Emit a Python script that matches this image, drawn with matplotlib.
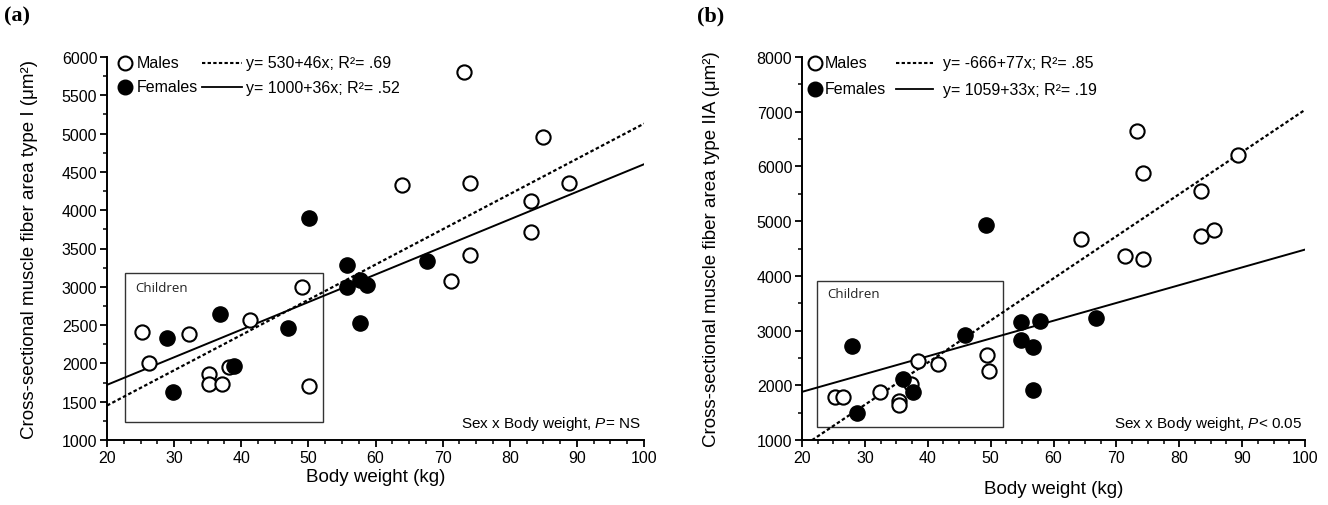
import matplotlib
matplotlib.use("Agg")
import matplotlib.pyplot as plt
from matplotlib.ticker import MultipleLocator, FixedLocator

plt.rcParams['font.family'] = ['Liberation Sans', 'DejaVu Sans']
plt.rcParams['mathtext.fontset'] = 'custom'
plt.rcParams['mathtext.rm'] = 'Liberation Sans'
plt.rcParams['mathtext.it'] = 'Liberation Sans:italic'

W, H, DPI = 1328, 506, 100

# ---------------- data: panel (a) type I ----------------
a_male_w = [25.2, 26.3, 32.2, 35.2, 35.2, 37.2, 38.2, 41.3, 49.0, 50.1,
            64.0, 71.2, 73.2, 74.1, 74.1, 83.1, 83.1, 85.0, 88.8]
a_male_csa = [2410, 2000, 2380, 1860, 1730, 1730, 1950, 2570, 3000, 1710,
              4330, 3080, 5810, 4355, 3420, 4120, 3710, 4960, 4355]
a_female_w = [29.0, 29.8, 36.9, 38.9, 46.9, 50.1, 55.7, 55.7, 57.7, 58.7, 57.7, 67.7]
a_female_csa = [2330, 1630, 2640, 1970, 2460, 3900, 3290, 3000, 3090, 3030, 2530, 3340]
a_fit_male = (530, 46)       # intercept, slope
a_fit_female = (1000, 36)
a_eq_male = "y= 530+46x; R²= .69"
a_eq_female = "y= 1000+36x; R²= .52"
a_box = (22.7, 52.2, 1240, 3180)
a_ylim = (1000, 6000)
a_yticks = [1000, 1500, 2000, 2500, 3000, 3500, 4000, 4500, 5000, 5500, 6000]
a_ylabel = "Cross-sectional muscle fiber area type I (μm²)"
a_stat = "Sex x Body weight, $P$= NS"

# ---------------- data: panel (b) type IIA ----------------
b_male_w = [25.2, 26.5, 32.4, 35.5, 35.5, 37.3, 38.4, 41.6, 49.4, 49.8,
            64.3, 71.3, 73.3, 74.2, 74.2, 83.4, 83.4, 85.5, 89.4]
b_male_csa = [1780, 1780, 1883, 1720, 1640, 2024, 2450, 2389, 2554, 2260,
              4674, 4358, 6643, 5876, 4309, 5558, 4735, 4839, 6216]
b_female_w = [27.9, 28.8, 36.0, 37.7, 46.0, 49.3, 54.9, 54.9, 57.9, 56.8, 56.8, 66.7]
b_female_csa = [2713, 1488, 2115, 1883, 2920, 4930, 3150, 2830, 3170, 2700, 1910, 3225]
b_fit_male = (-666, 77)
b_fit_female = (1230, 32.5)  # as drawn in the picture
b_eq_male = "y= -666+77x; R²= .85"
b_eq_female = "y= 1059+33x; R²= .19"
b_box = (22.4, 51.9, 1243, 3910)
b_ylim = (1000, 8000)
b_yticks = [1000, 2000, 3000, 4000, 5000, 6000, 7000, 8000]
b_ylabel = "Cross-sectional muscle fiber area type IIA (μm²)"
b_stat = "Sex x Body weight, $P$< 0.05"

x_range = (20, 100)
x_ticks = [20, 30, 40, 50, 60, 70, 80, 90, 100]
xlabel = "Body weight (kg)"


def fx(px):
    return px / W


def fy(py):
    return 1 - py / H


fig = plt.figure(figsize=(W / DPI, H / DPI), dpi=DPI)


def panel(left, right, top, bottom, mw, mc, fw, fc, fit_m, fit_f, eq_m, eq_f,
          box, ylim, yticks, yminor, ylabel, stat, tag, tagx, ylabx, xlaby, leg):
    ax = fig.add_axes([fx(left), fy(bottom), fx(right) - fx(left), fy(top) - fy(bottom)])
    ax.set_xlim(*x_range)
    ax.set_ylim(*ylim)
    for s in ['top', 'right']:
        ax.spines[s].set_visible(False)
    for s in ['left', 'bottom']:
        ax.spines[s].set_linewidth(1.4)
    ax.xaxis.set_major_locator(FixedLocator(x_ticks))
    ax.xaxis.set_minor_locator(MultipleLocator(2.5))
    ax.yaxis.set_major_locator(FixedLocator(yticks))
    ax.yaxis.set_minor_locator(MultipleLocator(yminor))
    ax.tick_params(which='major', direction='out', length=5, width=1.3, labelsize=11.5, pad=2)
    ax.tick_params(which='minor', direction='out', length=3, width=1.1)

    # children box
    ax.add_patch(plt.Rectangle((box[0], box[2]), box[1] - box[0], box[3] - box[2],
                               fill=False, edgecolor='#333333', linewidth=1.0, zorder=1))
    # fit lines
    xs = list(x_range)
    ax.plot(xs, [fit_m[0] + fit_m[1] * x for x in xs], color='black', lw=1.6,
            linestyle=(0, (1.6, 1.1)), zorder=2)
    ax.plot(xs, [fit_f[0] + fit_f[1] * x for x in xs], color='black', lw=1.4, zorder=2)
    # points
    ax.scatter(mw, mc, s=105, facecolor='white', edgecolor='black', linewidth=1.5, zorder=3)
    ax.scatter(fw, fc, s=120, facecolor='black', edgecolor='black', linewidth=1.0, zorder=4)

    # Children label
    fig.text(fx(leg['child'][0]), fy(leg['child'][1]), "Children", fontsize=9.5,
             family='Open Sans', color='#222222', ha='left', va='top')
    # stat text
    fig.text(fx(right - 3), fy(424), stat, fontsize=11, ha='right', va='center')

    # legend (manual)
    mx, tx, l0, l1, ex, r1, r2 = leg['pos']
    fig.lines.append(plt.Line2D([fx(mx)], [fy(r1)], marker='o', ms=10, mfc='white',
                                mec='black', mew=1.5, transform=fig.transFigure))
    fig.lines.append(plt.Line2D([fx(mx)], [fy(r2)], marker='o', ms=10.5, mfc='black',
                                mec='black', transform=fig.transFigure))
    fig.lines.append(plt.Line2D([fx(l0), fx(l1)], [fy(r1), fy(r1)], color='black', lw=1.5,
                                linestyle=(0, (1.6, 1.1)), transform=fig.transFigure))
    fig.lines.append(plt.Line2D([fx(l0), fx(l1)], [fy(r2), fy(r2)], color='black', lw=1.3,
                                transform=fig.transFigure))
    fig.text(fx(tx), fy(r1), "Males", fontsize=11.5, ha='left', va='center')
    fig.text(fx(tx), fy(r2), "Females", fontsize=11.5, ha='left', va='center')
    fig.text(fx(ex), fy(r1), eq_m, fontsize=11.5, ha='left', va='center')
    fig.text(fx(ex), fy(r2), eq_f, fontsize=11.5, ha='left', va='center')

    # axis labels
    fig.text(fx(ylabx), fy((top + bottom) / 2), ylabel, rotation=90, fontsize=13.5,
             ha='center', va='center')
    fig.text(fx((left + right) / 2), fy(xlaby), xlabel, fontsize=13.5, ha='center', va='center')
    # panel tag
    fig.text(fx(tagx), fy(6), tag, fontsize=16, fontweight='bold', family='Liberation Serif',
             ha='left', va='top')
    return ax


panel(107, 644, 58, 441, a_male_w, a_male_csa, a_female_w, a_female_csa,
      a_fit_male, a_fit_female, a_eq_male, a_eq_female, a_box, a_ylim, a_yticks, 250,
      a_ylabel, a_stat, "(a)", 4, 30, 478,
      {'child': (135, 282), 'pos': (125, 137, 202, 242, 246, 64, 88)})
panel(802, 1305, 58, 441, b_male_w, b_male_csa, b_female_w, b_female_csa,
      b_fit_male, b_fit_female, b_eq_male, b_eq_female, b_box, b_ylim, b_yticks, 500,
      b_ylabel, b_stat, "(b)", 697, 711, 490,
      {'child': (827, 288), 'pos': (815, 825, 896, 933, 943, 64, 90)})

fig.savefig("out.png", dpi=DPI)
